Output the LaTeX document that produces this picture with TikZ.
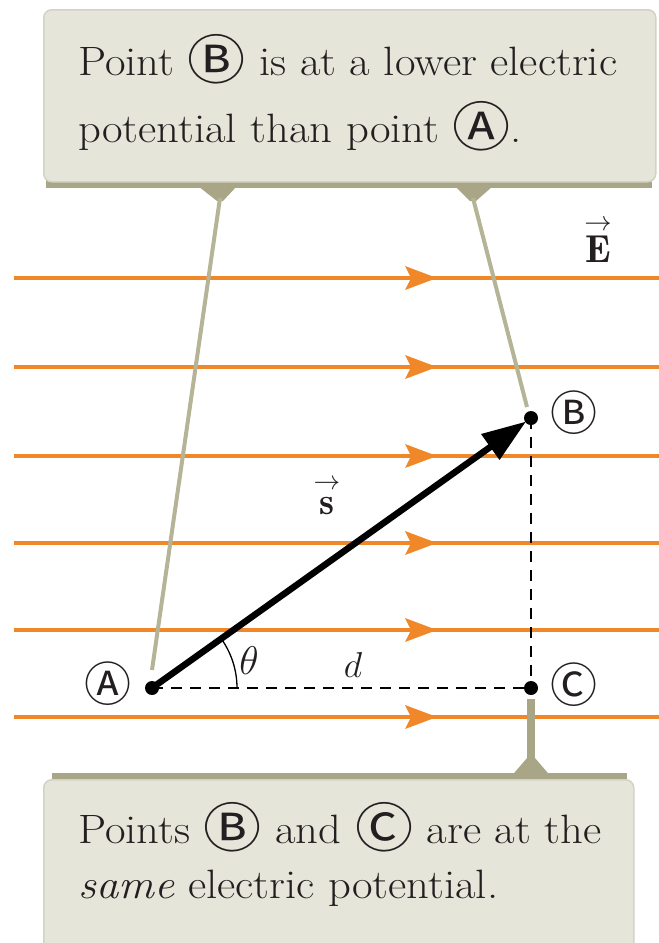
\RequirePackage{fix-cm}
\documentclass[tikz,border=0pt]{standalone}
\usepackage{amsmath}
\usepackage{fontspec}
\newfontfamily\circfont{Noto Sans CJK SC}
\usetikzlibrary{arrows.meta}
\definecolor{orng}{HTML}{F0882A}
\definecolor{olivedk}{HTML}{A9A687}
\definecolor{olivelt}{HTML}{B6B497}
\definecolor{boxfill}{HTML}{E6E5DA}
\definecolor{boxedge}{HTML}{D3D2C5}
\definecolor{ink}{HTML}{231F20}
\newcommand\cir[1]{\raisebox{-0.12em}{\circfont\fontsize{1.3em}{1.3em}\selectfont #1}}
\newcommand\wide[1]{\scalebox{1.09}[1]{#1}}
\begin{document}
\begin{tikzpicture}[x=1pt,y=-1pt,
  field/.style={orng,line width=3.5pt},
  fhead/.style={fill=orng},
  dot/.style={circle,fill=black,inner sep=0pt,minimum size=14pt},
  dashln/.style={black,line width=1.4pt,dash pattern=on 11pt off 8pt},
  pointer/.style={olivelt,line width=4pt},
  box/.style={draw=boxedge,line width=1.5pt,fill=boxfill,rounded corners=8pt,inner sep=0pt,anchor=north west},
  boxtext/.style={anchor=base west,inner sep=0pt,text=ink,font=\fontsize{41}{44}\selectfont},
  lbl/.style={inner sep=0pt,text=ink,font=\circfont\fontsize{47}{47}\selectfont},
  mathlbl/.style={inner sep=0pt,text=ink,font=\fontsize{38}{38}\selectfont}]
\useasboundingbox (0,0) rectangle (659,943);
% field lines
\foreach \yy in {278,367,456,543,630,717}{
  \draw[field] (14,\yy) -- (659,\yy);
  \fill[fhead] (405,\yy-12) -- (437,\yy) -- (405,\yy+12) -- (411,\yy) -- cycle;
}
% top box
\fill[olivedk] (46,172) rectangle (652,188);
\node[box,minimum width=612pt,minimum height=172pt] (topbox) at (43,9) {};
\fill[olivedk] (198,186) -- (237,186) -- (223,201) -- (217,201) -- cycle;
\fill[olivedk] (455,186) -- (493,186) -- (476,201) -- (470,201) -- cycle;
\node[boxtext] (t1) at (78,75) {\wide{Point \cir{Ⓑ} is at a lower electric}};
\node[boxtext] (t2) at (78,142) {\wide{potential than point \cir{Ⓐ}.}};
% points
\node[dot] (A) at (152,688) {};
\node[dot] (B) at (531,418) {};
\node[dot] (C) at (531,688) {};
\coordinate (pA) at (220,198);
\coordinate (pB) at (473,198);
\coordinate (eA) at (152,670);
\coordinate (eB) at (527,407);
\draw[pointer] (pA) -- (eA);
\draw[pointer] (pB) -- (eB);
% dashed
\draw[dashln] (A.center) -- (C.center);
\draw[dashln] (B.center) -- (C.center);
% vector s
\draw[line width=6.5pt,-{Triangle[length=44pt,width=30pt]},shorten >=6pt] (A.center) -- (B.center);
% theta arc
\draw[black,line width=1.3pt] (A.center) ++(85,0) arc[start angle=0,end angle=-35.5,radius=85];
\node[mathlbl,font=\fontsize{40}{40}\selectfont] (th) at (249,661) {$\theta$};
\node[mathlbl,font=\fontsize{36}{36}\selectfont] (dd) at (353,665) {$d$};
\node[mathlbl] (sv) at (327,496) {$\overset{\raisebox{3pt}{$\scriptstyle\rightarrow$}}{\mathbf{s}}$};
\node[mathlbl,font=\fontsize{39}{39}\selectfont] (Ev) at (598,240) {$\overset{\rightarrow}{\mathbf{E}}$};
% labels
\node[lbl] (la) at (108,684) {Ⓐ};
\node[lbl] (lb) at (574,413) {Ⓑ};
\node[lbl] (lc) at (574,685) {Ⓒ};
% bottom box
\fill[olivedk] (52,773) rectangle (627,782);
\draw[olivedk,line width=8pt] (C.south) ++(0,4) coordinate (cs) -- (531,775);
\fill[olivedk] (509,779) -- (553,779) -- (535,758) -- (527,758) -- cycle;
\node[box,minimum width=590pt,minimum height=175pt] (botbox) at (43,779) {};
\node[boxtext] (b1) at (78,843) {\wide{Points \cir{Ⓑ} and \cir{Ⓒ} are at the}};
\node[boxtext] (b2) at (78,898) {\wide{\textit{same} electric potential.}};
\end{tikzpicture}
\end{document}
